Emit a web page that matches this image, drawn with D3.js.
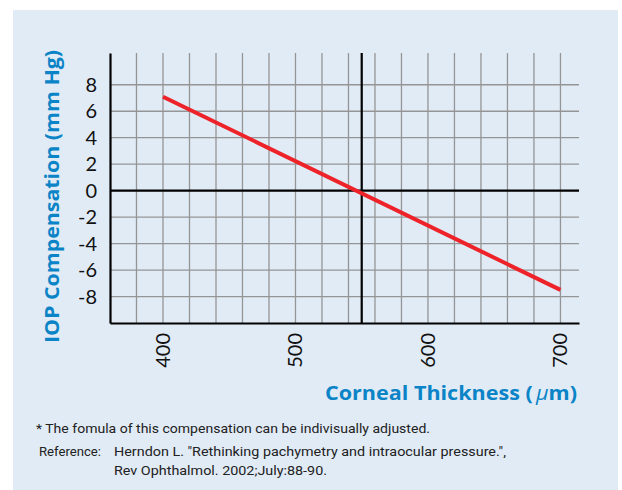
<!DOCTYPE html>
<html>
<head>
<meta charset="utf-8">
<script src="https://cdn.jsdelivr.net/npm/d3@7"></script>
<style>
  html, body { margin: 0; padding: 0; background: #fff; }
  svg { display: block; }
</style>
</head>
<body>
<div id="chart"></div>
<script>
// data
var thickness = [400, 700];          // corneal thickness (um)
var compensation = [7.1, -7.5];      // IOP compensation (mm Hg)
var xTickValues = [400, 500, 600, 700];
var yTickValues = [-8, -6, -4, -2, 0, 2, 4, 6, 8];
var xGridValues = [380, 400, 420, 440, 460, 480, 500, 520, 540, 560, 580, 600, 620, 640, 660, 680, 700];
var normalThickness = 550;
var footnotes = [
  '* The fomula of this compensation can be indivisually adjusted.',
  'Reference:',
  'Herndon L. "Rethinking pachymetry and intraocular pressure.",',
  'Rev Ophthalmol. 2002;July:88-90.'
];

var W = 622, H = 490;
var blue = '#0a84c6';

var svg = d3.select('#chart').append('svg')
  .attr('width', W)
  .attr('height', H);

svg.append('rect')
  .attr('x', 13).attr('y', 10)
  .attr('width', 605).attr('height', 480)
  .attr('fill', '#e1ebf6');

var x = d3.scaleLinear().domain([360, 714]).range([110, 579]);
var y = d3.scaleLinear().domain([-10, 10.4]).range([323, 53]);

var grid = svg.append('g');

// vertical grid
grid.selectAll('line.vx')
  .data(xGridValues)
  .enter().append('line')
  .attr('class', 'vx')
  .attr('x1', d => x(d)).attr('x2', d => x(d))
  .attr('y1', y.range()[1]).attr('y2', y.range()[0])
  .attr('stroke', '#959595')
  .attr('stroke-width', 1.3);

// horizontal grid
grid.selectAll('line.hy')
  .data(yTickValues.filter(d => d !== 0))
  .enter().append('line')
  .attr('class', 'hy')
  .attr('x1', x.range()[0]).attr('x2', x.range()[1])
  .attr('y1', d => y(d)).attr('y2', d => y(d))
  .attr('stroke', '#959595')
  .attr('stroke-width', 1.3);

// zero line and 550 um line
svg.append('line')
  .attr('x1', x.range()[0]).attr('x2', x.range()[1])
  .attr('y1', y(0)).attr('y2', y(0))
  .attr('stroke', '#000').attr('stroke-width', 2.2);

svg.append('line')
  .attr('x1', x(normalThickness)).attr('x2', x(normalThickness))
  .attr('y1', y.range()[1]).attr('y2', y.range()[0])
  .attr('stroke', '#000').attr('stroke-width', 2.2);

// axes (lines only, labels drawn separately)
var xAxis = svg.append('g')
  .attr('transform', `translate(0,${y.range()[0]})`)
  .call(d3.axisBottom(x).tickValues(xTickValues).tickSize(0).tickFormat(''));
xAxis.select('.domain').attr('stroke', '#000').attr('stroke-width', 2.2);

var yAxis = svg.append('g')
  .attr('transform', `translate(${x.range()[0]},0)`)
  .call(d3.axisLeft(y).tickValues(yTickValues).tickSize(0).tickFormat(''));
yAxis.select('.domain').attr('stroke', '#000').attr('stroke-width', 2.2);

// tick labels
svg.append('g').selectAll('text')
  .data(yTickValues)
  .enter().append('text')
  .attr('x', 97)
  .attr('y', d => y(d) + 7)
  .attr('text-anchor', 'end')
  .attr('font-family', 'Lato, "Open Sans", sans-serif')
  .attr('font-size', 20)
  .attr('fill', '#111')
  .text(d => d);

svg.append('g').selectAll('text')
  .data(xTickValues)
  .enter().append('text')
  .attr('transform', d => `translate(${x(d) + 7},333) rotate(-90)`)
  .attr('text-anchor', 'end')
  .attr('font-family', 'Lato, "Open Sans", sans-serif')
  .attr('font-size', 20)
  .attr('fill', '#111')
  .text(d => d);

// the compensation line
var line = d3.line()
  .x(d => x(d[0]))
  .y(d => y(d[1]));

svg.append('path')
  .datum(d3.zip(thickness, compensation))
  .attr('d', line)
  .attr('fill', 'none')
  .attr('stroke', '#ee2229')
  .attr('stroke-width', 4);

// axis titles
svg.append('text')
  .attr('transform', 'translate(59,343) rotate(-90)')
  .attr('text-anchor', 'start')
  .attr('textLength', 293).attr('lengthAdjust', 'spacingAndGlyphs')
  .attr('font-family', '"Open Sans", Lato, sans-serif')
  .attr('font-weight', 'bold')
  .attr('font-size', 20)
  .attr('fill', blue)
  .text('IOP Compensation (mm Hg)');

var xt = svg.append('text')
  .attr('x', 325)
  .attr('y', 400)
  .attr('textLength', 252).attr('lengthAdjust', 'spacingAndGlyphs')
  .attr('font-family', '"Open Sans", Lato, sans-serif')
  .attr('font-weight', 'bold')
  .attr('font-size', 20)
  .attr('fill', blue);
xt.append('tspan').text('Corneal Thickness (');
xt.append('tspan').attr('font-style', 'italic').attr('font-weight', 'normal').attr('dx', 3).text('\u03bc');
xt.append('tspan').text('m)');

// footnotes
var fn = svg.append('g')
  .attr('font-family', 'Roboto, "Open Sans", sans-serif')
  .attr('font-size', 13.5)
  .attr('fill', '#222');

fn.append('text').attr('x', 36).attr('y', 433)
  .attr('textLength', 394).attr('lengthAdjust', 'spacingAndGlyphs')
  .text(footnotes[0]);
fn.append('text').attr('x', 39).attr('y', 456)
  .attr('textLength', 62).attr('lengthAdjust', 'spacingAndGlyphs')
  .text(footnotes[1]);
fn.append('text').attr('x', 114).attr('y', 456)
  .attr('textLength', 392).attr('lengthAdjust', 'spacingAndGlyphs')
  .text(footnotes[2]);
fn.append('text').attr('x', 114).attr('y', 475)
  .attr('textLength', 213).attr('lengthAdjust', 'spacingAndGlyphs')
  .text(footnotes[3]);
</script>
</body>
</html>
